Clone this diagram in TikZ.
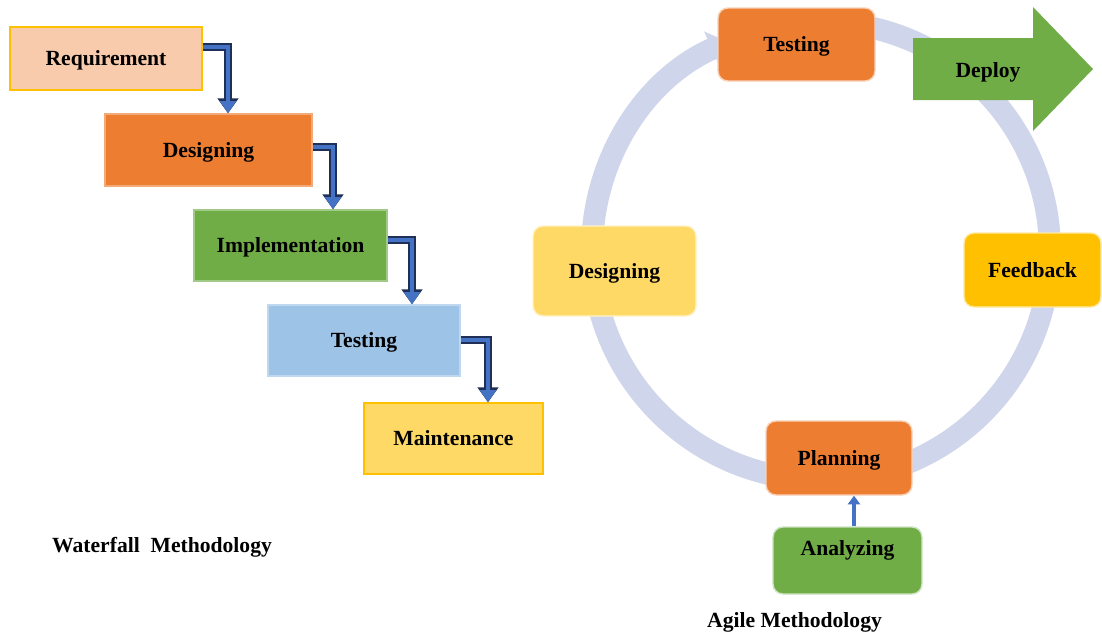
\documentclass[tikz,border=0pt]{standalone}
\usepackage{fontspec}
\setmainfont{Liberation Serif}
\usetikzlibrary{arrows.meta}
\definecolor{peach}{HTML}{F8CBAD}
\definecolor{orangebox}{HTML}{ED7D31}
\definecolor{greenbox}{HTML}{70AD47}
\definecolor{bluebox}{HTML}{9DC3E6}
\definecolor{yellowbox}{HTML}{FFD966}
\definecolor{goldbox}{HTML}{FFC000}
\definecolor{arrowblue}{HTML}{4472C4}
\definecolor{arrowedge}{HTML}{1F2F55}
\definecolor{ringcolor}{HTML}{CFD5EA}
\begin{document}
\begin{tikzpicture}
[x=0.02cm,y=-0.02cm,
  font=\fontsize{12.3}{14}\selectfont\bfseries,
  wfdecorate/.style={shape=rectangle,inner sep=0pt,line width=0.8pt,text height=8.5pt,text depth=0.5pt},%
  agdecorate/.style={shape=rectangle,rounded corners=0.2cm,inner sep=0pt,line width=0.8pt,
    text height=8.5pt,text depth=0.5pt},%
  ringdecorate/.style={ringcolor,line width=0.44cm,-{Triangle[length=0.35cm,width=0.75cm]}},%
  wfarrow/.style={arrowblue,line width=2.6pt,-{Triangle[length=7pt,width=9pt]},
    preaction={draw=arrowedge,line width=4pt,-{Triangle[length=8.5pt,width=11.5pt]}}},%
  agarrow/.style={arrowblue,line width=2.3pt,-{Triangle[length=5pt,width=7pt]}}]
\useasboundingbox (0,0) rectangle (1102,636);
%% circle of the agile cycle
\draw[ringdecorate] (821,251) ++(98:4.58cm) arc[start angle=98,end angle=-246,radius=4.58cm];
%% waterfall steps
\foreach \nodename/\x/\y/\w/\h/\fillc/\drawc/\txt in {%
  req/106/58.5/192/63/peach/goldbox/Requirement,
  des/208.5/150/207/72/orangebox/orangebox!65/Designing,
  imp/290.5/245.5/193/71/greenbox/greenbox!65/Implementation,
  tst/364/340.5/192/71/bluebox/bluebox!65/Testing,
  mnt/453.5/438.5/179/71/yellowbox/goldbox/Maintenance} {
  \node (\nodename) at (\x,\y) [wfdecorate,fill=\fillc,draw=\drawc,
    minimum width=\w*0.02cm,minimum height=\h*0.02cm] {\txt};
}
%% agile steps
\foreach \nodename/\x/\y/\w/\h/\fillc/\txt in {%
  atst/796.5/44.5/157/73/orangebox/Testing,
  ades/614.5/271/163/90/yellowbox/Designing,
  afbk/1032.5/270/137/74/goldbox/Feedback,
  apln/839/458/146/74/orangebox/Planning} {
  \node (\nodename) at (\x,\y) [agdecorate,fill=\fillc,draw=\fillc!35,
    minimum width=\w*0.02cm,minimum height=\h*0.02cm] {\txt};
}
\node (aanl) at (847.5,560.5) [agdecorate,fill=greenbox,draw=greenbox!35,
  minimum width=2.98cm,minimum height=1.34cm,text height=0.3cm,text depth=0.5cm] {Analyzing};
%% deploy arrow
\fill[greenbox] (913,38) -- (1033,38) -- (1033,7) -- (1093,69) -- (1033,131)
  -- (1033,100) -- (913,100) -- cycle;
\node (dep) at (988,70) [text height=8.5pt,text depth=0.5pt] {Deploy};
%% connectors
\foreach \startnode/\endnode/\ya/\xb in {req/des/47/228, des/imp/147/333,
  imp/tst/240/412, tst/mnt/340/488} {
  \draw[wfarrow] (\startnode.east |- 0,\ya) -| (\xb,0 |- \endnode.north);
}
\draw[agarrow] (aanl.north -| 854,0) -- (854,0 |- apln.south);
%% titles
\node[anchor=west] (wftitle) at (46,547) {Waterfall\ \ Methodology};
\node[anchor=west] (agtitle) at (701,622) {Agile Methodology};
\end{tikzpicture}
\end{document}
